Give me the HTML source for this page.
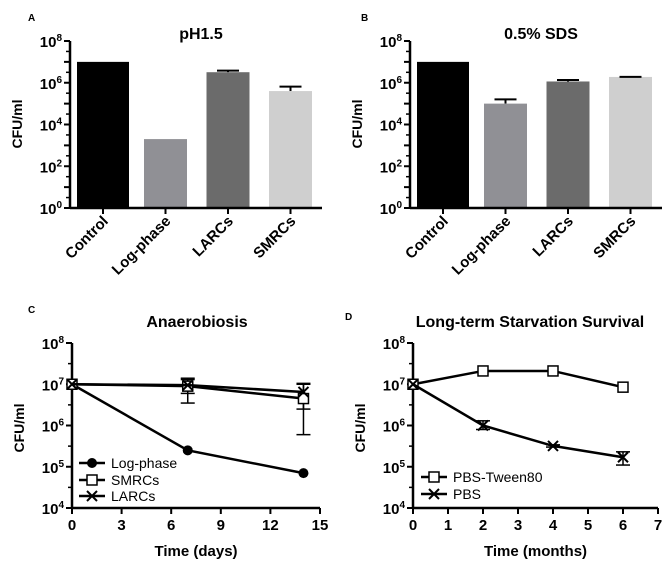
<!DOCTYPE html>
<html><head><meta charset="utf-8">
<style>
body{margin:0;background:#fff;}
svg{display:block;font-family:"Liberation Sans",Arial,sans-serif;}
text{fill:#000;}
</style></head>
<body>
<svg id="c" width="666" height="563"></svg>
<script>
const barCategories=["Control","Log-phase","LARCs","SMRCs"];
const phValues=[1e7,2000,3.2e6,4e5];
const phErrors=[0,0,3.8e6,6.5e5];
const sdsValues=[1e7,1e5,1.15e6,1.9e6];
const sdsErrors=[0,1.6e5,1.35e6,0];
const barColors=["#000000","#909095","#6b6b6b","#cfcfcf"];
const barYTicks=[0,2,4,6,8];

const anaDays=[0,7,14];
const anaLog=[1e7,2.5e5,7e4];
const anaSMRC=[1e7,9e6,4.5e6];
const anaSMRCLo=[1e7,3.5e6,6e5];
const anaSMRCHi=[1e7,1.4e7,1e7];
const anaLARC=[1e7,9.5e6,6.5e6];
const anaLARCLo=[1e7,6e6,2.5e6];
const anaLARCHi=[1e7,1.3e7,1.05e7];
const anaXTicks=[0,3,6,9,12,15];

const starvMonths=[0,2,4,6];
const starvTween=[1e7,2.1e7,2.1e7,8.5e6];
const starvPBS=[1e7,1e6,3.2e5,1.7e5];
const starvPBSLo=[1e7,8e5,3e5,1.1e5];
const starvPBSHi=[1e7,1.3e6,3.4e5,2.3e5];
const starvXTicks=[0,1,2,3,4,5,6,7];
const lineYTicks=[4,5,6,7,8];

const svg=document.getElementById('c');
const NS="http://www.w3.org/2000/svg";
function mk(tag,attrs,parent,name){const e=document.createElementNS(NS,tag);for(const k in attrs)e.setAttribute(k,attrs[k]);


(parent||svg).appendChild(e);return e;}
function txt(x,y,s,size,name,extra){const t=mk('text',Object.assign({x:x,y:y,'font-size':size,'font-weight':'bold'},extra||{}),svg,name);t.textContent=s;return t;}
function pow(x,y,e,name){const t=mk('text',{x:x,y:y,'font-size':15,'font-weight':'bold','text-anchor':'end'},svg,name);
t.textContent='10';const s=document.createElementNS(NS,'tspan');s.setAttribute('dy','-6');s.setAttribute('font-size','10');s.textContent=e;t.appendChild(s);}

function yAxis(ax,top,bot,minE,maxE,ticks,label,ly){
  const ys=v=>bot-(Math.log10(v)-minE)/(maxE-minE)*(bot-top);
  mk('line',{x1:ax,y1:top,x2:ax,y2:bot,stroke:'#000','stroke-width':2.5},svg,'y-axis');
  for(let e=minE;e<=maxE;e++){
    mk('line',{x1:ax-6,y1:ys(Math.pow(10,e)),x2:ax,y2:ys(Math.pow(10,e)),stroke:'#000','stroke-width':2},svg,'y-major-tick');
    if(e<maxE)mk('line',{x1:ax-4,y1:ys(Math.pow(10,e+0.5)),x2:ax,y2:ys(Math.pow(10,e+0.5)),stroke:'#000','stroke-width':1.5},svg,'y-minor-tick');
  }
  ticks.forEach(e=>pow(ax-8,ys(Math.pow(10,e))+6,e,'y-tick-label'));
  txt(ax-48,ly,label,14,'y-axis-title',{transform:`rotate(-90 ${ax-48} ${ly})`,'text-anchor':'middle'});
  return ys;
}

function barPanel(ox,ax,title,vals,errs,letter,lx){
  const top=41,bot=208,xe=ax+252;
  const ys=yAxis(ax,top,bot,0,8,barYTicks,'CFU/ml',124);
  const bw=[52,43,43,43];
  const xc=i=>ax+33+i*62.5;
  vals.forEach((v,i)=>{
    if(errs[i]>0){mk('line',{x1:xc(i),y1:ys(v),x2:xc(i),y2:ys(errs[i]),stroke:'#000','stroke-width':2},svg,'error-bar');
      mk('line',{x1:xc(i)-11,y1:ys(errs[i]),x2:xc(i)+11,y2:ys(errs[i]),stroke:'#000','stroke-width':2},svg,'error-cap');}
    mk('rect',{x:xc(i)-bw[i]/2,y:ys(v),width:bw[i],height:bot-ys(v),fill:barColors[i]},svg,'bar-'+barCategories[i].toLowerCase());
    if(i===3&&errs[i]===0)mk('line',{x1:xc(i)-11,y1:ys(v),x2:xc(i)+11,y2:ys(v),stroke:'#000','stroke-width':2},svg,'error-cap');
    mk('line',{x1:xc(i),y1:bot,x2:xc(i),y2:bot+6,stroke:'#000','stroke-width':2},svg,'x-tick');
    txt(xc(i)+6,bot+14,barCategories[i],15,'x-tick-label',{'text-anchor':'end',transform:`rotate(-45 ${xc(i)+6} ${bot+14})`});
  });
  mk('line',{x1:ax,y1:bot,x2:xe,y2:bot,stroke:'#000','stroke-width':2.5},svg,'x-axis');
  txt((ax+xe)/2+5,39,title,16,'chart-title',{'text-anchor':'middle'});
  txt(lx,21,letter,10,'panel-label');
}
barPanel(0,70,'pH1.5',phValues,phErrors,'A',28);
barPanel(333,410,'0.5% SDS',sdsValues,sdsErrors,'B',361);

function marker(type,x,y,name){
  if(type==='circle')mk('circle',{cx:x,cy:y,r:5,fill:'#000'},svg,name);
  else if(type==='square')mk('rect',{x:x-5,y:y-5,width:10,height:10,fill:'#fff',stroke:'#000','stroke-width':1.5},svg,name);
  else {mk('path',{d:`M${x-5},${y-5}L${x+5},${y+5}M${x-5},${y+5}L${x+5},${y-5}`,stroke:'#000','stroke-width':2},svg,name);}
}
function series(xs,ysArr,X,Y,type,name){
  mk('polyline',{points:xs.map((d,i)=>X(d)+','+Y(ysArr[i])).join(' '),fill:'none',stroke:'#000','stroke-width':2.5},svg,name+'-line');
  xs.forEach((d,i)=>marker(type,X(d),Y(ysArr[i]),name+'-point'));
}
function errs(xs,lo,hi,X,Y,name){
  xs.forEach((d,i)=>{if(lo[i]===hi[i])return;
    mk('line',{x1:X(d),y1:Y(lo[i]),x2:X(d),y2:Y(hi[i]),stroke:'#000','stroke-width':1.5},svg,name);
    [lo[i],hi[i]].forEach(v=>mk('line',{x1:X(d)-7,y1:Y(v),x2:X(d)+7,y2:Y(v),stroke:'#000','stroke-width':1.5},svg,name+'-cap'));});
}
function legend(x,y,type,label){
  mk('line',{x1:x,y1:y,x2:x+26,y2:y,stroke:'#000','stroke-width':2.5},svg,'legend-line');
  marker(type,x+13,y,'legend-marker');
  const t=mk('text',{x:x+32,y:y+5,'font-size':14},svg,'legend-entry');t.textContent=label;
}
function linePanel(ax,xe,maxX,xticks,title,tx,letter,lx,ly,xlabel){
  const top=343,bot=508;
  const Y=yAxis(ax,top,bot,4,8,lineYTicks,'CFU/ml',428);
  const X=d=>ax+d/maxX*(xe-ax);
  mk('line',{x1:ax,y1:bot,x2:xe,y2:bot,stroke:'#000','stroke-width':2.5},svg,'x-axis');
  xticks.forEach(d=>{mk('line',{x1:X(d),y1:bot,x2:X(d),y2:bot+6,stroke:'#000','stroke-width':2},svg,'x-tick');
    txt(X(d),bot+22,String(d),15,'x-tick-label',{'text-anchor':'middle'});});
  txt((ax+xe)/2,bot+48,xlabel,15,'x-axis-title',{'text-anchor':'middle'});
  txt(tx,327,title,16,'chart-title',{'text-anchor':'middle'});
  txt(lx,ly,letter,10,'panel-label');
  return [X,Y];
}
let [X1,Y1]=linePanel(72,320,15,anaXTicks,'Anaerobiosis',197,'C',28,313,'Time (days)');
errs(anaDays,anaSMRCLo,anaSMRCHi,X1,Y1,'smrcs-error');
errs(anaDays,anaLARCLo,anaLARCHi,X1,Y1,'larcs-error');
series(anaDays,anaLog,X1,Y1,'circle','log-phase');
series(anaDays,anaSMRC,X1,Y1,'square','smrcs');
series(anaDays,anaLARC,X1,Y1,'x','larcs');
legend(79,463,'circle','Log-phase');
legend(79,480,'square','SMRCs');
legend(79,496,'x','LARCs');

let [X2,Y2]=linePanel(413,658,7,starvXTicks,'Long-term Starvation Survival',530,'D',345,320,'Time (months)');
errs(starvMonths,starvPBSLo,starvPBSHi,X2,Y2,'pbs-error');
series(starvMonths,starvTween,X2,Y2,'square','pbs-tween80');
series(starvMonths,starvPBS,X2,Y2,'x','pbs');
legend(421,477,'square','PBS-Tween80');
legend(421,494,'x','PBS');
</script>
</body></html>
